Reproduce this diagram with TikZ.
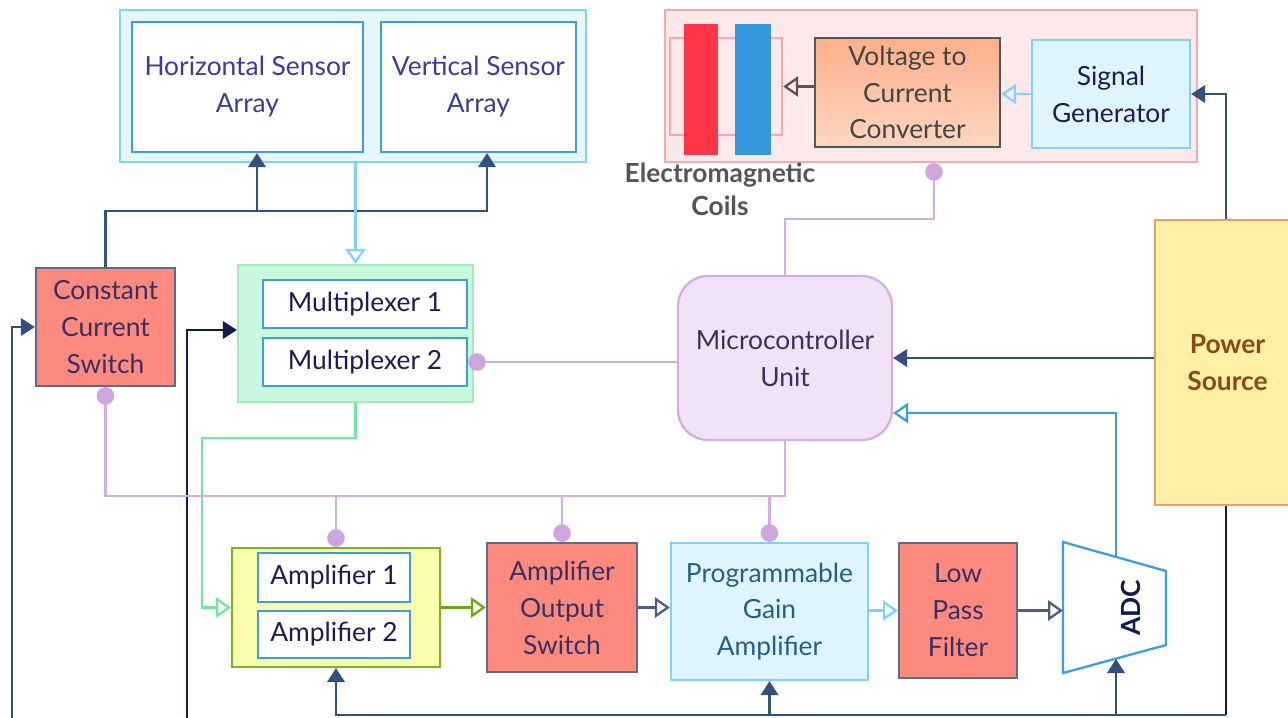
\documentclass[tikz,border=0pt]{standalone}
\usepackage{fontspec}
\setmainfont{Lato}
\usetikzlibrary{arrows.meta,calc,positioning}
\definecolor{navyln}{HTML}{34507F}
\definecolor{inkln}{HTML}{0F1A4F}
\definecolor{lightln}{HTML}{80D2F7}
\definecolor{blueln}{HTML}{3A9EE0}
\definecolor{greenln}{HTML}{6EE89A}
\definecolor{oliveln}{HTML}{6AAA12}
\definecolor{slateln}{HTML}{4A5D85}
\definecolor{grayln}{HTML}{555555}
\definecolor{ctlln}{HTML}{D3AEE2}
\definecolor{ctldot}{HTML}{CDA6DE}
\definecolor{sensfill}{HTML}{E5F6FD}
\definecolor{senstxt}{HTML}{3B3B9C}
\definecolor{coilfill}{HTML}{FDE9EA}
\definecolor{coiledge}{HTML}{F7A9AD}
\definecolor{coilred}{HTML}{FF3547}
\definecolor{coilblue}{HTML}{3498DC}
\definecolor{vtoctop}{HTML}{FCB08A}
\definecolor{vtocbot}{HTML}{FDD6C2}
\definecolor{cyanfill}{HTML}{DFF5FD}
\definecolor{salmon}{HTML}{FD8A7E}
\definecolor{salmonedge}{HTML}{5C6B8E}
\definecolor{muxfill}{HTML}{C9F8DC}
\definecolor{muxedge}{HTML}{A0ECBF}
\definecolor{micfill}{HTML}{F1E2F5}
\definecolor{micedge}{HTML}{D2AEE2}
\definecolor{pwrfill}{HTML}{FFF0A8}
\definecolor{pwredge}{HTML}{E6A064}
\definecolor{pwrtxt}{HTML}{8C4A12}
\definecolor{ampfill}{HTML}{FDFDAE}
\definecolor{ampedge}{HTML}{7AB51D}
\definecolor{inktxt}{HTML}{1E1A5A}
\definecolor{plumtxt}{HTML}{3A2F60}

\begin{document}
\begin{tikzpicture}[x=0.02cm,y=-0.02cm,font=\fontsize{15}{21}\selectfont,line width=1.3pt,
    box/.style={draw,rectangle,inner sep=0pt,align=center},
    inbox/.style={box,fill=white,draw=blueln},
    redbox/.style={box,fill=salmon,draw=salmonedge,text=plumtxt},
    bar/.style={rectangle,inner sep=0pt,minimum height=2.62cm},
    fillarr/.style={-{Triangle[length=8pt,width=10pt]}},
    openarr/.style={-{Triangle[open,length=8.5pt,width=11.5pt]}},
    ctl/.style={draw=ctlln,arrows={Circle[length=10pt,color=ctldot]-}}]
    \useasboundingbox (0,0) rectangle (1288,717);
    % sensor arrays
    \node[box,fill=sensfill,draw=lightln,minimum width=9.32cm,minimum height=3.04cm] (sensors) at (353,86) {};
    \node[inbox,text=senstxt,minimum width=4.62cm,minimum height=2.6cm] (horiz) at (247.5,87) {Horizontal Sensor\\Array};
    \node[inbox,text=senstxt,minimum width=3.9cm,minimum height=2.6cm] (vert) at (478.5,87) {Vertical Sensor\\Array};
    % coil driver
    \node[box,fill=coilfill,draw=coiledge,minimum width=10.64cm,minimum height=3.04cm] (coilgrp) at (931,86) {};
    \node[box,draw=coiledge,minimum width=2.24cm,minimum height=1.94cm] (coilframe) at (726,86.5) {};
    \node[bar,fill=coilred,minimum width=0.68cm] (redcoil) at (701,89.5) {};
    \node[bar,fill=coilblue,minimum width=0.72cm] (bluecoil) at (753,89.5) {};
    \node[align=center,text=grayln,font=\fontsize{15}{19}\selectfont\bfseries] (coillbl) at (720,189) {Electromagnetic\\Coils};
    \node[box,draw=grayln,top color=vtoctop,bottom color=vtocbot,text=grayln!80!black,minimum width=3.7cm,minimum height=2.18cm] (vtoc) at (907.5,92.5) {Voltage to\\Current\\Converter};
    \node[box,fill=cyanfill,draw=lightln,text=inktxt,minimum width=3.16cm,minimum height=2.16cm] (siggen) at (1111,94) {Signal\\Generator};
    % control side
    \node[redbox,minimum width=2.78cm,minimum height=2.36cm] (ccs) at (105.5,327) {Constant\\Current\\Switch};
    \node[box,fill=muxfill,draw=muxedge,minimum width=4.7cm,minimum height=2.74cm] (mux) at (355.5,333.5) {};
    \node[inbox,text=inktxt,minimum width=4.08cm,minimum height=0.96cm] (mux1) at (365,304) {Multiplexer 1};
    \node[inbox,text=inktxt,minimum width=4.08cm,minimum height=0.96cm] (mux2) at (365,362) {Multiplexer 2};
    \node[box,fill=micfill,draw=micedge,rounded corners=0.6cm,text=plumtxt,minimum width=4.28cm,minimum height=3.28cm] (micro) at (785,358) {Microcontroller\\Unit};
    \node[box,fill=pwrfill,draw=pwredge,text=pwrtxt,font=\fontsize{15}{21}\selectfont\bfseries,minimum width=2.9cm,minimum height=5.7cm] (power) at (1227.5,362.5) {Power\\Source};
    % signal chain
    \node[box,fill=ampfill,draw=ampedge,minimum width=4.16cm,minimum height=2.38cm] (amp) at (336,607.5) {};
    \node[inbox,text=inktxt,minimum width=3.04cm,minimum height=0.98cm] (amp1) at (334,577.5) {Amplifier 1};
    \node[inbox,text=inktxt,minimum width=3.04cm,minimum height=0.94cm] (amp2) at (334,634.5) {Amplifier 2};
    \node[redbox,minimum width=3.0cm,minimum height=2.58cm] (aos) at (562,607.5) {Amplifier\\Output\\Switch};
    \node[box,fill=cyanfill,draw=lightln,text=blueln!60!black,minimum width=3.94cm,minimum height=2.74cm] (pga) at (769.5,611.5) {Programmable\\Gain\\Amplifier};
    \node[redbox,minimum width=2.36cm,minimum height=2.7cm] (lpf) at (958,610.5) {Low\\Pass\\Filter};
    \coordinate (adcnw) at (1063,542);
    \coordinate (adcne) at (1166,571);
    \coordinate (adcse) at (1166,645);
    \coordinate (adcsw) at (1063,673);
    \draw[blueln,fill=white] (adcnw) -- (adcne) -- (adcse) -- (adcsw) -- cycle;
    \node[rotate=90,text=inkln,font=\fontsize{15}{21}\selectfont\bfseries] (adc) at (1131,608) {ADC};
    \coordinate (adcin) at (1063,607);
    \coordinate (adctop) at (1116,557);
    \coordinate (adcbot) at (1116,659);
    % free ends at the lower edge
    \coordinate (leftin) at (12,725);
    \coordinate (muxin) at (187,725);
    \coordinate (gnd) at ([yshift=-4.18cm]power.south);
    \coordinate (ctlbus) at ([yshift=-2.18cm]ccs.south);
    % supply lines
    \draw[navyln,fillarr] (ccs.north) |- ([xshift=0.17cm,yshift=-1.16cm]vert.south) -- ([xshift=0.17cm]vert.south);
    \draw[navyln,fillarr] ([xshift=0.19cm,yshift=-1.16cm]horiz.south) -- ([xshift=0.19cm]horiz.south);
    \draw[navyln,fillarr] (leftin) |- (ccs.west);
    \draw[inkln,fillarr] (muxin) |- ([yshift=0.07cm]mux.west);
    \draw[navyln,fillarr] (power.west |- micro.east) -- (micro.east);
    \draw[navyln,fillarr] ([xshift=-0.03cm]power.north) |- (siggen.east);
    \draw[inkln] ([xshift=-0.03cm]power.south) -- ([xshift=-0.03cm]gnd);
    \draw[navyln,fillarr] ([xshift=-0.03cm]gnd) -| (amp.south);
    \draw[navyln,fillarr] (gnd -| pga.south) -- (pga.south);
    \draw[navyln,fillarr] (gnd -| adcbot) -- (adcbot);
    % signal lines
    \draw[lightln,openarr] (mux.north |- sensors.south) -- (mux.north);
    \draw[greenln,openarr] (mux.south) -- ++(0,35) -| ([xshift=-0.58cm]amp.west) -- (amp.west);
    \draw[oliveln,openarr] (amp.east) -- (aos.west);
    \draw[slateln,openarr] (aos.east) -- (aos.east -| pga.west);
    \draw[lightln,openarr] (lpf.west -| pga.east) -- (lpf.west);
    \draw[slateln,openarr] (lpf.east) -- (lpf.east -| adcin);
    \draw[blueln,openarr] (adctop) |- ([yshift=-1.1cm]micro.east);
    \draw[lightln,openarr] (siggen.west) -- (siggen.west -| vtoc.east);
    \draw[grayln,openarr] (vtoc.west |- coilframe.east) -- (coilframe.east);
    % control lines
    \draw[ctl] ([xshift=0.06cm]coilgrp.south) -- ++(0,56) -| (micro.north);
    \draw[ctl] (mux2.east) -- (mux2.east -| micro.west);
    \draw[ctl] (ccs.south) |- (ctlbus -| micro.south) -- (micro.south);
    \draw[ctl] (amp.north) -- (ctlbus -| amp.north);
    \draw[ctl] (aos.north) -- (ctlbus -| aos.north);
    \draw[ctl] (pga.north) -- (ctlbus -| pga.north);
  \end{tikzpicture}
\end{document}
